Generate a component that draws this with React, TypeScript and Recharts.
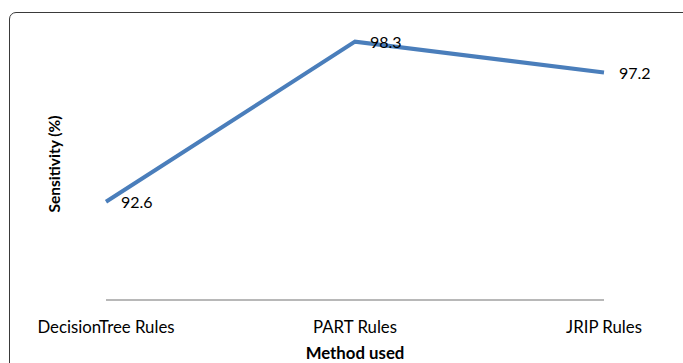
import { LineChart, Line, XAxis, YAxis, LabelList } from 'recharts'

const methods = ['DecisionTree Rules', 'PART Rules', 'JRIP Rules']
const sensitivity = [92.6, 98.3, 97.2]

const data = methods.map((name, i) => ({ name, value: sensitivity[i] }))

const FONT = 'Lato, "Open Sans", sans-serif'

function CategoryTick({ x, y, payload }: any) {
  return (
    <text x={x} y={y + 26} textAnchor="middle" dominantBaseline="central" fontFamily={FONT} fontSize={16.8} fill="#000">
      {payload.value}
    </text>
  )
}

function ValueLabel({ x, y, value }: any) {
  return (
    <text x={x + 15} y={y} textAnchor="start" dominantBaseline="central" fontFamily={FONT} fontSize={16} fill="#000">
      {value}
    </text>
  )
}

function XTitle({ viewBox }: any) {
  return (
    <text x={viewBox.x + viewBox.width / 2} y={viewBox.y + 52} textAnchor="middle" dominantBaseline="central" fontFamily={FONT} fontWeight={700} fontSize={16.8} fill="#000">
      Method used
    </text>
  )
}

function YTitle({ viewBox }: any) {
  const cx = viewBox.x + 8
  const cy = viewBox.y + viewBox.height / 2 + 3
  return (
    <text x={cx} y={cy} transform={`rotate(-90 ${cx} ${cy})`} textAnchor="middle" dominantBaseline="central" fontFamily={FONT} fontWeight={700} fontSize={15.5} fill="#000">
      Sensitivity (%)
    </text>
  )
}

export default function App() {
  return (
    <div style={{ position: 'absolute', left: 0, top: 0, width: 683, height: 363, overflow: 'hidden', background: '#fff' }}>
      <div style={{ position: 'absolute', left: 9, top: 12, width: 700, height: 400, border: '1px solid #3a3a3a', borderRadius: 7, boxSizing: 'border-box' }} />
      <div style={{ position: 'absolute', left: 0, top: 0 }}>
        <LineChart width={683} height={363} data={data} margin={{ top: 22, right: 79, bottom: 23, left: 46 }}>
          <XAxis
            dataKey="name"
            height={40}
            tickSize={0}
            tickMargin={0}
            tickLine={false}
            axisLine={{ stroke: '#a0a0a0', strokeWidth: 1.5 }}
            tick={<CategoryTick />}
            interval={0}
            label={{ content: <XTitle /> }}
          />
          <YAxis
            width={60}
            domain={[89.1, 99]}
            axisLine={false}
            tickLine={false}
            tick={false}
            label={{ content: <YTitle /> }}
          />
          <Line
            type="linear"
            dataKey="value"
            stroke="#4a7ebb"
            strokeWidth={4}
            dot={false}
            activeDot={false}
            isAnimationActive={false}
          >
            <LabelList dataKey="value" content={<ValueLabel />} />
          </Line>
        </LineChart>
      </div>
    </div>
  )
}
